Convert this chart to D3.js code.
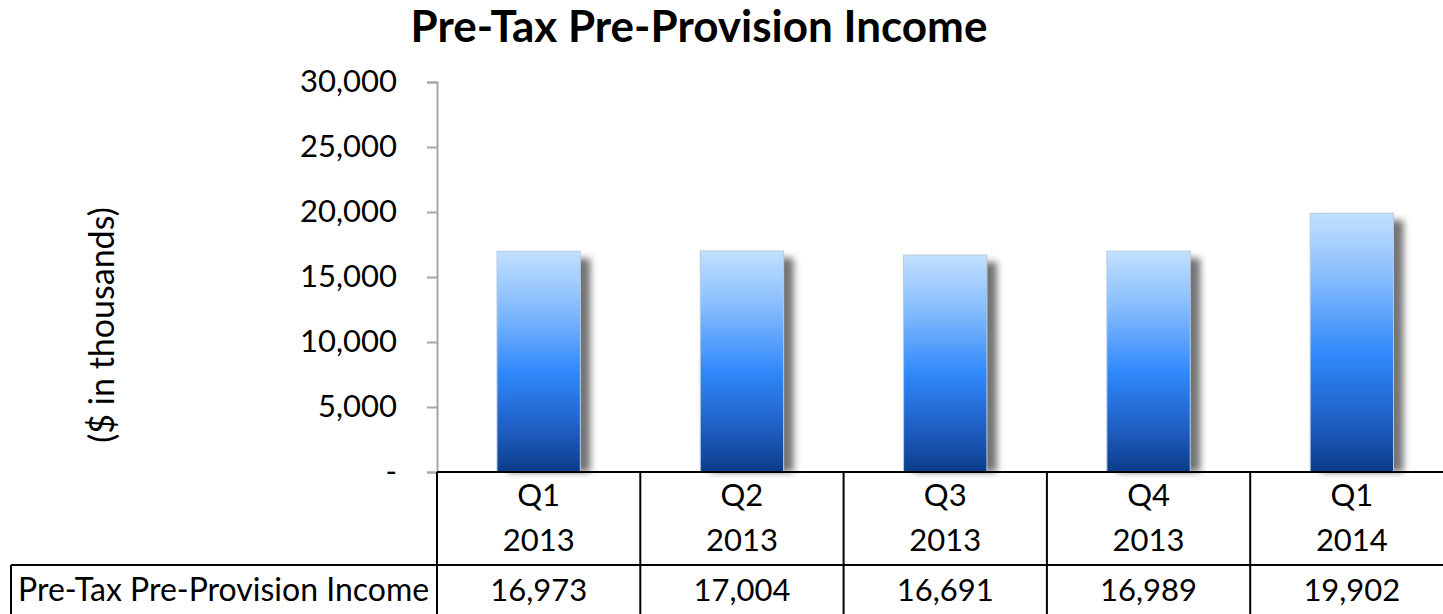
<!DOCTYPE html>
<html>
<head>
<meta charset="utf-8">
<script src="https://cdn.jsdelivr.net/npm/d3@7"></script>
<style>
  body { margin: 0; background: #fff; }
  svg { display: block; font-family: "Lato", "Open Sans", sans-serif; }
</style>
</head>
<body>
<svg width="1443" height="614"></svg>
<script>
// chart values
var quarters = ["Q1", "Q2", "Q3", "Q4", "Q1"];
var years = ["2013", "2013", "2013", "2013", "2014"];
var income = [16973, 17004, 16691, 16989, 19902];
var yTicks = [0, 5000, 10000, 15000, 20000, 25000, 30000];
var seriesName = "Pre-Tax Pre-Provision Income";

var svg = d3.select("svg"),
    width = +svg.attr("width"),
    height = +svg.attr("height");

// plot area (don't call it "top", that's window.top)
var plotLeft = 437, plotTop = 82, plotBottom = 472;
var colW = 203.3;

var x = d3.scaleBand()
    .domain(d3.range(income.length))
    .range([plotLeft, plotLeft + colW * income.length])
    .paddingInner(0.59)
    .paddingOuter(0.295);

var y = d3.scaleLinear()
    .domain([0, 30000])
    .range([plotBottom, plotTop]);

var defs = svg.append("defs");

// bar gradient, light on top, dark at the base
var grad = defs.append("linearGradient")
    .attr("id", "barGrad")
    .attr("x1", 0).attr("y1", 0).attr("x2", 0).attr("y2", 1);
grad.append("stop").attr("offset", "0%").attr("stop-color", "#c2e0ff");
grad.append("stop").attr("offset", "25%").attr("stop-color", "#86bdfd");
grad.append("stop").attr("offset", "55%").attr("stop-color", "#2f88fb");
grad.append("stop").attr("offset", "80%").attr("stop-color", "#1f5fc4");
grad.append("stop").attr("offset", "100%").attr("stop-color", "#0c3c8a");

// soft shadow to the right
var blur = defs.append("filter")
    .attr("id", "shadow")
    .attr("x", "-20%").attr("y", "-10%")
    .attr("width", "160%").attr("height", "130%");
blur.append("feGaussianBlur").attr("stdDeviation", 3.5);

// title
svg.append("text")
    .attr("x", 699)
    .attr("y", 42)
    .attr("text-anchor", "middle")
    .attr("font-size", 44)
    .attr("font-weight", "bold")
    .attr("fill", "#000")
    .text("Pre-Tax Pre-Provision Income");

// y axis title
svg.append("text")
    .attr("transform", "translate(114,325) rotate(-90)")
    .attr("text-anchor", "middle")
    .attr("font-size", 34)
    .attr("fill", "#000")
    .text("($ in thousands)");

// y axis
var yAxis = svg.append("g")
    .attr("transform", "translate(" + plotLeft + ",0)")
    .call(d3.axisLeft(y)
        .tickValues(yTicks)
        .tickSize(10)
        .tickPadding(30)
        .tickFormat(function(d) { return d === 0 ? "-" : d3.format(",")(d); }));
yAxis.select(".domain").attr("stroke", "#a6a6a6").attr("stroke-width", 2);
yAxis.selectAll(".tick line").attr("stroke", "#a6a6a6").attr("stroke-width", 2);
yAxis.selectAll(".tick text")
    .attr("font-size", 31)
    .attr("font-family", "Lato, 'Open Sans', sans-serif")
    .attr("fill", "#000");

// shadows
svg.append("g").selectAll("rect")
    .data(income)
  .enter().append("rect")
    .attr("x", function(d, i) { return x(i) + 10; })
    .attr("y", function(d) { return y(d) + 7; })
    .attr("width", x.bandwidth())
    .attr("height", function(d) { return plotBottom - y(d) - 7; })
    .attr("fill", "#737373")
    .attr("filter", "url(#shadow)");

// bars
svg.append("g").selectAll("rect")
    .data(income)
  .enter().append("rect")
    .attr("x", function(d, i) { return x(i); })
    .attr("y", function(d) { return y(d); })
    .attr("width", x.bandwidth())
    .attr("height", function(d) { return plotBottom - y(d); })
    .attr("fill", "url(#barGrad)")
    .attr("stroke", "#b9cbe0")
    .attr("stroke-width", 1);

// data table
var rowSplit = 565;
var table = svg.append("g")
    .attr("stroke", "#000")
    .attr("stroke-width", 2)
    .attr("fill", "none");

table.append("line")
    .attr("x1", plotLeft).attr("x2", width + 10)
    .attr("y1", plotBottom).attr("y2", plotBottom);
table.append("line")
    .attr("x1", 11).attr("x2", width + 10)
    .attr("y1", rowSplit).attr("y2", rowSplit);
table.append("line")
    .attr("x1", 11).attr("x2", 11)
    .attr("y1", rowSplit).attr("y2", height + 5);
table.selectAll(".col")
    .data(d3.range(income.length + 1))
  .enter().append("line")
    .attr("x1", function(i) { return plotLeft + i * colW; })
    .attr("x2", function(i) { return plotLeft + i * colW; })
    .attr("y1", plotBottom).attr("y2", height + 5);

var cells = svg.append("g")
    .attr("font-size", 31)
    .attr("fill", "#000")
    .attr("text-anchor", "middle");

cells.selectAll(".q")
    .data(quarters)
  .enter().append("text")
    .attr("x", function(d, i) { return plotLeft + (i + 0.5) * colW; })
    .attr("y", 506)
    .text(function(d) { return d; });

cells.selectAll(".yr")
    .data(years)
  .enter().append("text")
    .attr("x", function(d, i) { return plotLeft + (i + 0.5) * colW; })
    .attr("y", 551)
    .text(function(d) { return d; });

cells.selectAll(".val")
    .data(income)
  .enter().append("text")
    .attr("x", function(d, i) { return plotLeft + (i + 0.5) * colW; })
    .attr("y", 601)
    .text(function(d) { return d3.format(",")(d); });

cells.append("text")
    .attr("x", 18)
    .attr("y", 601)
    .attr("text-anchor", "start")
    .attr("font-size", 32)
    .text(seriesName);
</script>
</body>
</html>
